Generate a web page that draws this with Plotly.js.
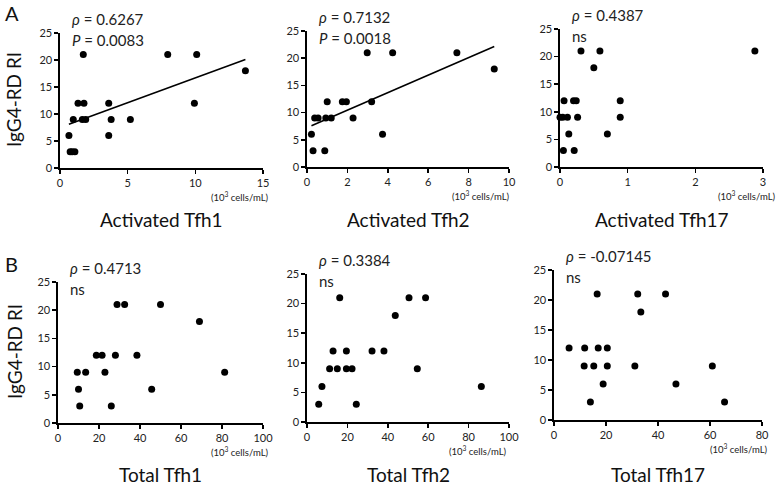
<!DOCTYPE html>
<html>
<head>
<meta charset="utf-8">
<script src="https://cdn.plot.ly/plotly-3.0.1.min.js"></script>
<style>
  html, body { margin: 0; padding: 0; background: #fff; }
  #plot { width: 778px; height: 485px; }
</style>
</head>
<body>
<div id="plot"></div>
<script>
// values (10^3 cells/mL vs IgG4-RD RI score)
var actTfh1_x = [0.66, 0.75, 0.9, 1.1, 0.98, 1.33, 1.72, 1.77, 1.65, 1.9, 3.6, 3.6, 3.78, 5.2, 7.96, 9.93, 10.1, 13.7];
var actTfh1_y = [6, 3, 3, 3, 9, 12, 21, 12, 9, 9, 12, 6, 9, 9, 21, 12, 21, 18];

var actTfh2_x = [0.22, 0.3, 0.88, 0.38, 0.55, 0.93, 1.2, 1.0, 1.75, 1.95, 2.28, 2.98, 3.2, 3.74, 4.24, 7.42, 9.27];
var actTfh2_y = [6, 3, 3, 9, 9, 9, 9, 12, 12, 12, 9, 21, 12, 6, 21, 21, 18];

var actTfh17_x = [0.0, 0.04, 0.06, 0.05, 0.11, 0.13, 0.2, 0.24, 0.21, 0.26, 0.31, 0.5, 0.59, 0.7, 0.89, 0.89, 2.88];
var actTfh17_y = [9, 9, 12, 3, 9, 6, 12, 12, 3, 9, 21, 18, 21, 6, 12, 9, 21];

var totTfh1_x = [9.4, 10, 10.6, 13.5, 18.7, 21.5, 22.9, 26, 28, 28.8, 32.5, 38.5, 45.7, 50, 69, 81.3];
var totTfh1_y = [9, 6, 3, 9, 12, 12, 9, 3, 12, 21, 21, 12, 6, 21, 18, 9];

var totTfh2_x = [5.8, 7.4, 11.2, 12.9, 15, 16.2, 19.5, 19.5, 22.3, 24.4, 32.2, 38.1, 43.7, 50.5, 54.6, 58.7, 86.3];
var totTfh2_y = [3, 6, 9, 12, 9, 21, 12, 9, 9, 3, 12, 12, 18, 21, 9, 21, 6];

var totTfh17_x = [5.8, 11.8, 11.6, 14, 15.3, 16.6, 17, 18.9, 20.5, 20.5, 31.1, 32.2, 33.4, 42.9, 46.9, 60.9, 65.6];
var totTfh17_y = [12, 12, 9, 3, 9, 21, 12, 6, 12, 9, 9, 21, 18, 21, 6, 9, 3];

var panelNames = ["Activated Tfh1", "Activated Tfh2", "Activated Tfh17", "Total Tfh1", "Total Tfh2", "Total Tfh17"];
var rhoText = ["0.6267", "0.7132", "0.4387", "0.4713", "0.3384", "-0.07145"];
var pText = ["0.0083", "0.0018", null, null, null, null];
var xMax = [15, 10, 3, 100, 100, 80];
var xStep = [5, 2, 1, 20, 20, 20];
// regression lines drawn on the two significant panels
var fitSlope = [0.92, 1.61];
var fitIntercept = [7.5, 7.22];

var xs = [actTfh1_x, actTfh2_x, actTfh17_x, totTfh1_x, totTfh2_x, totTfh17_x];
var ys = [actTfh1_y, actTfh2_y, actTfh17_y, totTfh1_y, totTfh2_y, totTfh17_y];

var W = 778, H = 485;
function px(v) { return v / W; }
function py(v) { return 1 - v / H; }

// panel boxes in pixels: [left, right, top, bottom]
var boxes = [
  [60, 263, 33, 168],
  [307, 509, 31, 167],
  [560, 763, 29, 167],
  [58, 263, 282, 423],
  [307, 509, 274, 422],
  [554, 762, 270, 420]
];
// how far the unit note sticks out past the axis end
var unitShift = [8, 3, 15, 8, 0, 8];

var font = "Lato, 'Liberation Sans', sans-serif";
var traces = [];
var layout = {
  width: W, height: H,
  margin: {l: 0, r: 0, t: 0, b: 0},
  paper_bgcolor: "white", plot_bgcolor: "white",
  showlegend: false,
  font: {family: font, color: "#111", size: 11},
  annotations: []
};

for (var i = 0; i < 6; i++) {
  var n = i === 0 ? "" : String(i + 1);
  var b = boxes[i];
  traces.push({
    x: xs[i], y: ys[i], xaxis: "x" + n, yaxis: "y" + n,
    type: "scatter", mode: "markers", cliponaxis: false,
    marker: {color: "black", size: 7}
  });
  if (i < 2) {
    var lo = Math.min.apply(null, xs[i]), hi = Math.max.apply(null, xs[i]);
    traces.push({
      x: [lo, hi],
      y: [fitIntercept[i] + fitSlope[i] * lo, fitIntercept[i] + fitSlope[i] * hi],
      xaxis: "x" + n, yaxis: "y" + n,
      type: "scatter", mode: "lines", line: {color: "black", width: 1.6}
    });
  }
  var axStyle = {
    showgrid: false, zeroline: false, showline: true,
    linecolor: "black", linewidth: 1.6,
    ticks: "outside", ticklen: 4, tickwidth: 1.5, tickcolor: "black",
    tickfont: {family: font, size: 11, color: "#222"}, fixedrange: true
  };
  layout["xaxis" + n] = Object.assign({}, axStyle, {
    domain: [px(b[0]), px(b[1])], anchor: "y" + n,
    range: [0, xMax[i]], tickmode: "linear", tick0: 0, dtick: xStep[i]
  });
  layout["yaxis" + n] = Object.assign({}, axStyle, {
    domain: [py(b[3]), py(b[2])], anchor: "x" + n,
    range: [0, 25], tickmode: "linear", tick0: 0, dtick: 5
  });

  var row = i < 3 ? 0 : 1;
  layout.annotations.push({
    xref: "paper", yref: "paper", x: px(b[0] + 10), y: py(b[2] - 14),
    xanchor: "left", yanchor: "middle", showarrow: false,
    text: "<i>ρ</i> = " + rhoText[i],
    font: {family: font, size: 15, color: "#222"}
  });
  layout.annotations.push({
    xref: "paper", yref: "paper", x: px(b[0] + 10), y: py(b[2] + 7),
    xanchor: "left", yanchor: "middle", showarrow: false,
    text: pText[i] ? "<i>P</i> = " + pText[i] : "ns",
    font: {family: font, size: 15, color: "#222"}
  });
  layout.annotations.push({
    xref: "paper", yref: "paper", x: px(b[1] + unitShift[i]), y: py(b[3] + 28),
    xanchor: "right", yanchor: "middle", showarrow: false,
    text: "(10<sup>3</sup> cells/mL)",
    font: {family: font, size: 9.5, color: "#222"}
  });
  layout.annotations.push({
    xref: "paper", yref: "paper", x: px((b[0] + b[1]) / 2), y: py(row === 0 ? 220 : 474),
    xanchor: "center", yanchor: "middle", showarrow: false,
    text: panelNames[i],
    font: {family: font, size: 19, color: "#111"}
  });
}

// row letters and y titles
layout.annotations.push({xref: "paper", yref: "paper", x: px(3), y: py(13), xanchor: "left", yanchor: "middle",
  showarrow: false, text: "A", font: {family: font, size: 20, color: "#111"}});
layout.annotations.push({xref: "paper", yref: "paper", x: px(3), y: py(264), xanchor: "left", yanchor: "middle",
  showarrow: false, text: "B", font: {family: font, size: 20, color: "#111"}});
layout.annotations.push({xref: "paper", yref: "paper", x: px(14), y: py(100), xanchor: "center", yanchor: "middle",
  showarrow: false, textangle: -90, text: "IgG4-RD RI", font: {family: font, size: 19, color: "#111"}});
layout.annotations.push({xref: "paper", yref: "paper", x: px(14), y: py(352), xanchor: "center", yanchor: "middle",
  showarrow: false, textangle: -90, text: "IgG4-RD RI", font: {family: font, size: 19, color: "#111"}});

Plotly.newPlot("plot", traces, layout, {displayModeBar: false, staticPlot: true});
</script>
</body>
</html>
